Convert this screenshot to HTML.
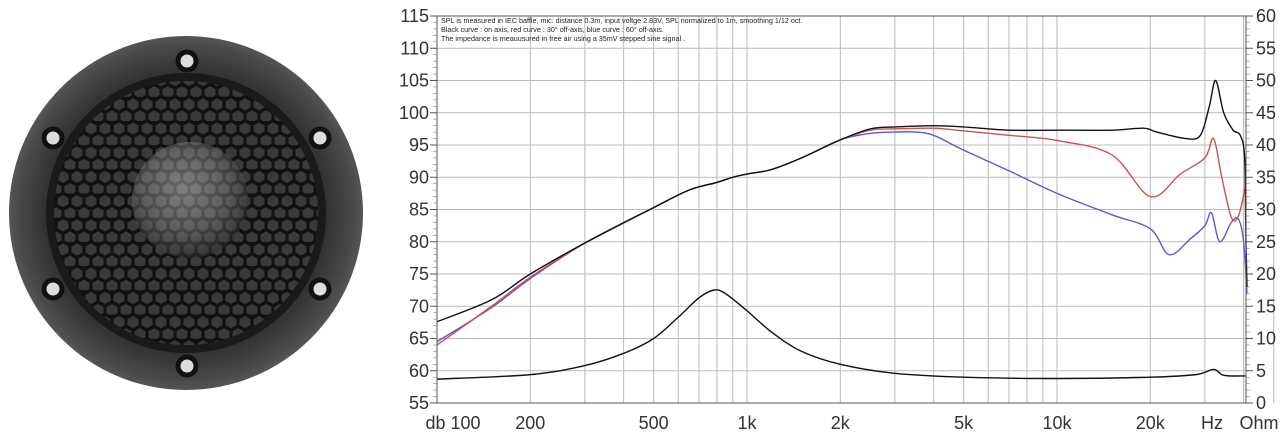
<!DOCTYPE html>
<html><head><meta charset="utf-8"><style>
body{margin:0;background:#fff;width:1280px;height:436px;overflow:hidden;font-family:"Liberation Sans",sans-serif}
</style></head><body>
<svg id="s" width="1280" height="436" xmlns="http://www.w3.org/2000/svg">
<defs>
<pattern id="hex" width="14" height="24.2" patternUnits="userSpaceOnUse">
<rect width="14" height="24.2" fill="#111"/>
<polygon points="7,1.5 12.5,4.6 12.5,10.5 7,13.6 1.5,10.5 1.5,4.6" fill="#3a3a3a"/>
<polygon points="0,13.6 5.5,16.7 5.5,22.6 0,25.7 -5.5,22.6 -5.5,16.7" fill="#3a3a3a"/>
<polygon points="14,13.6 19.5,16.7 19.5,22.6 14,25.7 8.5,22.6 8.5,16.7" fill="#3a3a3a"/>
</pattern>
<radialGradient id="dome" cx="0.45" cy="0.4" r="0.6"><stop offset="0" stop-color="#d8d8d8"/><stop offset="0.6" stop-color="#8a8a8a"/><stop offset="1" stop-color="#333"/></radialGradient>
<radialGradient id="ring" cx="0.5" cy="0.5" r="0.5"><stop offset="0.8" stop-color="#333"/><stop offset="0.95" stop-color="#4a4a4a"/><stop offset="1" stop-color="#555"/></radialGradient>
</defs>
<circle cx="186" cy="213" r="177" fill="url(#ring)"/>
<circle cx="186" cy="213" r="140" fill="#1a1a1a"/>
<circle cx="186" cy="213" r="132" fill="url(#hex)"/>
<circle cx="190" cy="200" r="58" fill="url(#dome)"/>
<circle cx="190" cy="200" r="58" fill="url(#hex)" opacity="0.55"/>
<g fill="#ddd" stroke="#111" stroke-width="5">
<circle cx="187" cy="61" r="9"/><circle cx="320" cy="138" r="9"/><circle cx="320" cy="289" r="9"/>
<circle cx="187" cy="366" r="9"/><circle cx="53" cy="289" r="9"/><circle cx="53" cy="138" r="9"/>
</g>
<g id="grid"></g>
<g id="curves" fill="none" stroke-width="1.4"></g>
<g font-size="18" fill="#333" id="labels"></g>
<rect x="437" y="16" width="809" height="387" fill="none" stroke="#555" stroke-width="1"/>
<g font-size="7.2" fill="#222">
<text x="441" y="23">SPL is measured in IEC baffle, mic. distance 0.3m, input voltge 2.83V, SPL normalized to 1m, smoothing 1/12 oct.</text>
<text x="441" y="32">Black curve : on axis, red curve : 30° off-axis, blue curve : 60° off-axis.</text>
<text x="441" y="41">The impedance is meauusured in free air using a 35mV stepped sine signal .</text>
</g>
</svg>
<script>
const NS="http://www.w3.org/2000/svg";
const X=f=>437+310*Math.log10(f/100), Y=d=>403-(d-55)*387/60;
const g=document.getElementById('grid'),c=document.getElementById('curves'),L=document.getElementById('labels');
function el(p,t,a){const e=document.createElementNS(NS,t);for(const k in a)e.setAttribute(k,a[k]);p.appendChild(e);return e}
let fs=[];for(const d of [100,1000,10000])for(let i=1;i<10;i++)fs.push(d*i);fs.push(40000);
fs.forEach(f=>{const x=X(f);el(g,'line',{x1:x,x2:x,y1:16,y2:403,stroke:'#bbb','stroke-width':1});});
for(let d=55;d<=115;d+=5){const y=Y(d);el(g,'line',{x1:437,x2:1246,y1:y,y2:y,stroke:'#bbb','stroke-width':1});
el(L,'text',{x:429,y:y+6,'text-anchor':'end'}).textContent=d;
el(L,'text',{x:1256,y:y+6}).textContent=d-55;
el(g,'line',{x1:430,x2:437,y1:y,y2:y,stroke:'#555'});el(g,'line',{x1:1246,x2:1253,y1:y,y2:y,stroke:'#555'});
for(let k=1;k<5;k++){const yy=Y(d+k);if(d<115){el(g,'line',{x1:433,x2:437,y1:yy,y2:yy,stroke:'#888','stroke-width':.6});el(g,'line',{x1:1246,x2:1250,y1:yy,y2:yy,stroke:'#888','stroke-width':.6});}}}
[['db 100',437],['200',X(200)],['500',X(500)],['1k',X(1000)],['2k',X(2000)],['5k',X(5000)],['10k',X(10000)],['20k',X(20000)],['Hz',1212],['Ohm',1259]].forEach(([t,x],i)=>{
const e=el(L,'text',{x:i==0?x+16:x,y:429,'text-anchor':'middle'});e.textContent=t;});
function path(pts,col){const P=pts.map(([f,d])=>[X(f),Y(d)]);let s=`M${P[0][0]},${P[0][1]}`;
for(let i=0;i<P.length-1;i++){const p0=P[i-1]||P[i],p1=P[i],p2=P[i+1],p3=P[i+2]||p2;
s+=`C${p1[0]+(p2[0]-p0[0])/6},${p1[1]+(p2[1]-p0[1])/6} ${p2[0]-(p3[0]-p1[0])/6},${p2[1]-(p3[1]-p1[1])/6} ${p2[0]},${p2[1]}`;}
el(c,'path',{d:s,stroke:col});}
const base=[[300,79.8],[500,85.3],[650,88],[800,89.2],[900,90],[1000,90.5],[1200,91.2],[1500,93],[2000,95.8]];
path([[100,64.5],[150,69.8],[200,74.3],...base,[2500,96.8],[3000,97],[3500,97],[4000,96.5],[5000,94.2],[7000,91],[10000,87.5],[15000,84.2],[20000,82],[23000,78],[27000,80.5],[30000,82.5],[31500,84.5],[33500,80],[36500,83],[38500,83.5],[40000,80],[41000,72]],'#5a5acc');
path([[100,64],[150,70],[200,74.5],...base,[2500,97.3],[3000,97.5],[4000,97.6],[5000,97.2],[7000,96.5],[10000,95.7],[15000,93.5],[20000,87],[25000,90.5],[30000,93],[32000,96],[34000,90],[36500,83.8],[38500,84],[40500,88.5]],'#d05050');
path([[100,67.6],[150,71],[200,75],...base,[2500,97.5],[3000,97.8],[4000,98],[5000,97.8],[7000,97.3],[10000,97.3],[15000,97.3],[19000,97.6],[21000,97],[26000,96],[29000,96.5],[31000,101],[32500,105],[34500,100],[37000,97.3],[39000,96.5],[40300,93],[40700,80],[41000,73]],'#111');
path([[100,58.7],[200,59.4],[300,60.8],[400,62.7],[500,65],[600,68.3],[700,71.3],[780,72.5],[850,72],[1000,69.3],[1200,66],[1500,63],[2000,61],[3000,59.6],[5000,59],[10000,58.8],[20000,59],[28000,59.4],[32000,60.2],[34000,59.4],[36000,59.2],[40500,59.2]],'#111');
</script>
</body></html>
